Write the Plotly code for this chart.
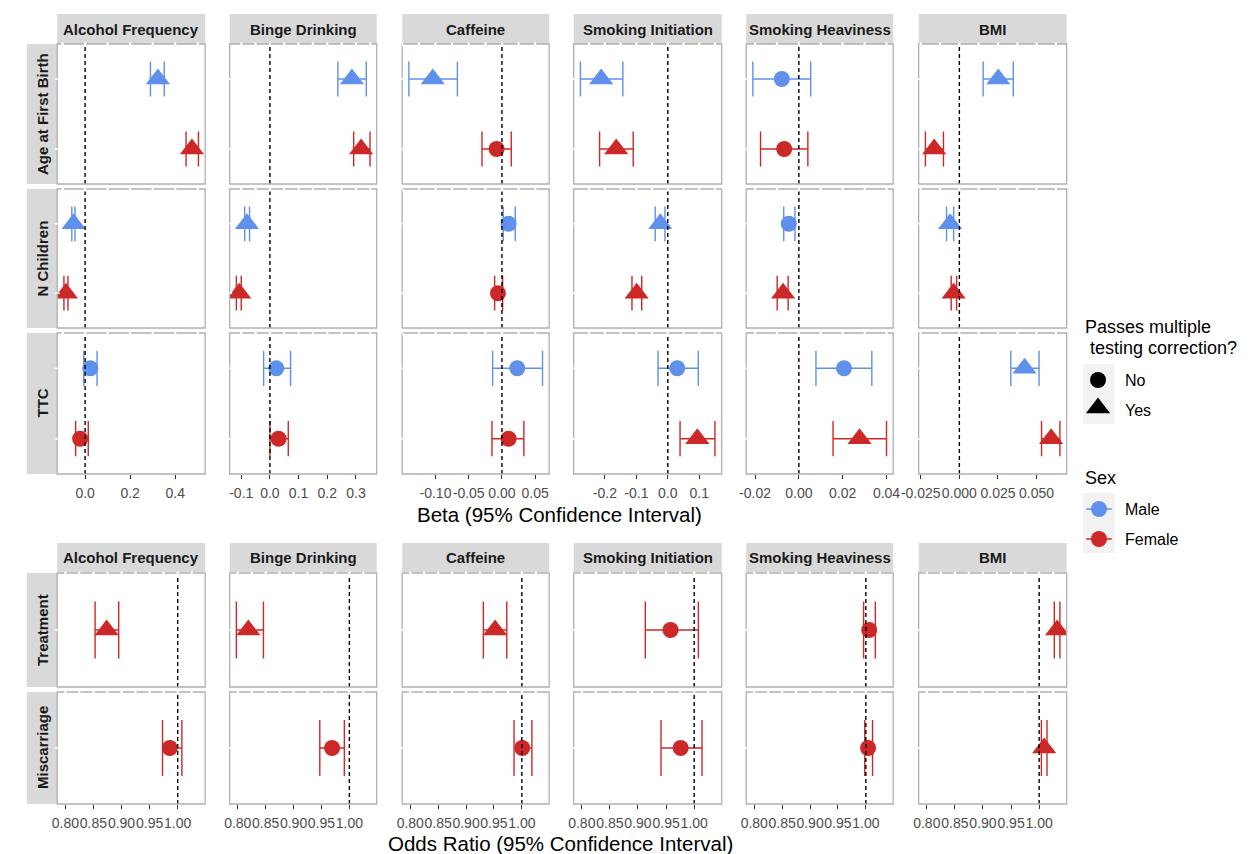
import math
import plotly.graph_objects as go

# ---------------------------------------------------------------- data
EXPOSURES = ["Alcohol Frequency", "Binge Drinking", "Caffeine",
             "Smoking Initiation", "Smoking Heaviness", "BMI"]
BETA_OUTCOMES = ["Age at First Birth", "N Children", "TTC"]
OR_OUTCOMES = ["Treatment", "Miscarriage"]

# Beta estimates, rows = outcomes (AFB, N Children, TTC), cols = exposures
MALE_EST = [[0.323, 0.286, -0.104, -0.212, -0.0078, 0.0252],
            [-0.051, -0.080, 0.010, -0.024, -0.0046, -0.0060],
            [0.023, 0.022, 0.023, 0.030, 0.0206, 0.0422]]
MALE_LO = [[0.290, 0.237, -0.140, -0.278, -0.0210, 0.0154],
           [-0.059, -0.088, 0.002, -0.040, -0.0069, -0.0083],
           [-0.006, -0.022, -0.014, -0.031, 0.0078, 0.0333]]
MALE_HI = [[0.351, 0.336, -0.067, -0.143, 0.0054, 0.0349],
           [-0.045, -0.071, 0.020, -0.009, -0.0018, -0.0037],
           [0.053, 0.072, 0.061, 0.097, 0.0333, 0.0516]]
MALE_PASS = [[1, 1, 1, 1, 0, 1],
             [1, 1, 0, 1, 0, 1],
             [0, 0, 0, 0, 0, 1]]

FEMALE_EST = [[0.474, 0.318, -0.008, -0.164, -0.0067, -0.0163],
              [-0.085, -0.107, -0.006, -0.099, -0.0072, -0.0037],
              [-0.022, 0.030, 0.010, 0.094, 0.0277, 0.0594]]
FEMALE_LO = [[0.448, 0.292, -0.030, -0.217, -0.0175, -0.0220],
             [-0.094, -0.117, -0.011, -0.114, -0.0099, -0.0053],
             [-0.042, 0.000, -0.015, 0.039, 0.0156, 0.0532]]
FEMALE_HI = [[0.503, 0.349, 0.014, -0.110, 0.0041, -0.0103],
             [-0.076, -0.100, 0.001, -0.083, -0.0049, -0.0018],
             [0.014, 0.064, 0.033, 0.150, 0.0400, 0.0651]]
FEMALE_PASS = [[1, 1, 0, 1, 0, 1],
               [1, 1, 0, 1, 1, 1],
               [0, 0, 0, 1, 1, 1]]

# Odds ratios (female only), rows = Treatment, Miscarriage
OR_EST = [[0.8735, 0.819, 0.952, 0.958, 1.006, 1.032],
          [0.986, 0.969, 1.0006, 0.976, 1.004, 1.009]]
OR_LO = [[0.853, 0.7975, 0.931, 0.913, 0.996, 1.027],
         [0.973, 0.947, 0.986, 0.941, 0.998, 1.004]]
OR_HI = [[0.895, 0.846, 0.973, 1.0075, 1.017, 1.037],
         [1.0075, 0.991, 1.018, 1.014, 1.012, 1.014]]
OR_PASS = [[1, 1, 1, 0, 0, 1],
           [0, 0, 0, 0, 0, 1]]

BETA_TICKS = [[0.0, 0.2, 0.4],
              [-0.1, 0.0, 0.1, 0.2, 0.3],
              [-0.10, -0.05, 0.00, 0.05],
              [-0.2, -0.1, 0.0, 0.1],
              [-0.02, 0.00, 0.02, 0.04],
              [-0.025, 0.000, 0.025, 0.050]]
BETA_TICK_TEXT = [["0.0", "0.2", "0.4"],
                  ["-0.1", "0.0", "0.1", "0.2", "0.3"],
                  ["-0.10", "-0.05", "0.00", "0.05"],
                  ["-0.2", "-0.1", "0.0", "0.1"],
                  ["-0.02", "0.00", "0.02", "0.04"],
                  ["-0.025", "0.000", "0.025", "0.050"]]
OR_TICKS = [0.80, 0.85, 0.90, 0.95, 1.00]
OR_TICK_TEXT = ["0.80", "0.85", "0.90", "0.95", "1.00"]

# ---------------------------------------------------------------- style
W, H = 1253, 854
MALE_COL = "#5E90EC"
FEMALE_COL = "#CD2828"
FONT = "Liberation Sans, Arial, sans-serif"
STRIP_FILL = "#D9D9D9"
BORDER = "#B0B0B0"
CIRCLE_SIZE = 16
TRI_SIZE = 21
CAP = 0.25

COL_PX = [(40, 191), (216, 366), (392, 542), (567, 718), (743, 893), (919, 1070)]
TOP_ROWS_PX = [(44, 184), (189, 328), (333, 474)]
BOT_ROWS_PX = [(573, 687), (692, 804)]
TOP_STRIP_PX = (14, 44)
BOT_STRIP_PX = (543, 572)
ROW_STRIP_X = (9, 40)


def fx(px):
    return px / W


def fy(py):
    return 1 - py / H


def expand(lo, hi, mult=0.05):
    span = hi - lo
    return [lo - mult * span, hi + mult * span]


def grid_positions(ticks, rng):
    """Major and minor break positions (half-step grid) inside the range."""
    half = (ticks[1] - ticks[0]) / 2
    k0 = math.ceil((rng[0] - ticks[0]) / half - 1e-9)
    k1 = math.floor((rng[1] - ticks[0]) / half + 1e-9)
    return [ticks[0] + k * half for k in range(k0, k1 + 1)]


fig = go.Figure()
layout = dict(width=W, height=H, margin=dict(l=0, r=0, t=0, b=0),
              paper_bgcolor="white", plot_bgcolor="white", showlegend=False,
              font=dict(family=FONT))
shapes, annotations = [], []


def axis_names(n):
    return ("xaxis" if n == 1 else f"xaxis{n}", "yaxis" if n == 1 else f"yaxis{n}",
            "x" if n == 1 else f"x{n}", "y" if n == 1 else f"y{n}")


def add_points(xr, yr, ypos, est, lo, hi, passes, color):
    # error bars: horizontal span plus end caps
    xs, ys = [], []
    for yv, l, h in zip(ypos, lo, hi):
        xs += [l, h, None, l, l, None, h, h, None]
        ys += [yv, yv, None, yv - CAP, yv + CAP, None, yv - CAP, yv + CAP, None]
    fig.add_trace(go.Scatter(x=xs, y=ys, mode="lines", xaxis=xr, yaxis=yr,
                             line=dict(color=color, width=1.4), hoverinfo="skip"))
    fig.add_trace(go.Scatter(
        x=est, y=ypos, mode="markers", xaxis=xr, yaxis=yr, opacity=1,
        marker=dict(color=color, opacity=1,
                    symbol=["triangle-up" if p else "circle" for p in passes],
                    size=[TRI_SIZE if p else CIRCLE_SIZE for p in passes],
                    line=dict(width=0)),
        hoverinfo="skip"))


def panel(n, xpx, ypx, xrange, yrange, cats, show_ticks, tickvals, ticktext, ref):
    xa, ya, xr, yr = axis_names(n)
    layout[xa] = dict(domain=[fx(xpx[0]), fx(xpx[1])], range=xrange, anchor=yr,
                      showgrid=False, zeroline=False, showline=False,
                      showticklabels=show_ticks, ticks="outside" if show_ticks else "",
                      ticklen=4, tickwidth=1.1, tickcolor="#333333", ticklabelstandoff=2,
                      tickvals=tickvals, ticktext=ticktext, tickangle=0,
                      tickfont=dict(size=14, color="#4D4D4D", family=FONT))
    layout[ya] = dict(domain=[fy(ypx[1]), fy(ypx[0])], range=yrange, anchor=xr,
                      showgrid=False, zeroline=False, showline=False,
                      showticklabels=False, ticks="")
    # reference line
    shapes.append(dict(type="line", xref=xr, yref=f"{yr} domain", x0=ref, x1=ref,
                       y0=0, y1=1, line=dict(color="black", width=1.4, dash="4px,3px")))
    # panel border
    shapes.append(dict(type="rect", xref="paper", yref="paper",
                       x0=fx(xpx[0]), x1=fx(xpx[1]), y0=fy(ypx[1]), y1=fy(ypx[0]),
                       line=dict(color=BORDER, width=1.3), layer="above"))
    # white grid ends crossing the top and left borders
    hpx, wpx = ypx[1] - ypx[0], xpx[1] - xpx[0]
    for gx in grid_positions(tickvals, xrange):
        shapes.append(dict(type="line", xref=xr, yref=f"{yr} domain", x0=gx, x1=gx,
                           y0=1 - 2.5 / hpx, y1=1 + 1.5 / hpx,
                           line=dict(color="white", width=2.2), layer="above"))
    for cy in cats:
        shapes.append(dict(type="line", xref=f"{xr} domain", yref=yr, x0=-2.5 / wpx,
                           x1=2.5 / wpx, y0=cy, y1=cy,
                           line=dict(color="white", width=1.6), layer="above"))
    return xr, yr


def strip_h(xpx, ypx, text):
    shapes.append(dict(type="rect", xref="paper", yref="paper", x0=fx(xpx[0]), x1=fx(xpx[1]),
                       y0=fy(ypx[1]), y1=fy(ypx[0]), fillcolor=STRIP_FILL, line=dict(width=0),
                       layer="below"))
    annotations.append(dict(xref="paper", yref="paper", x=fx((xpx[0] + xpx[1]) / 2),
                            y=fy((ypx[0] + ypx[1]) / 2), text=f"<b>{text}</b>", showarrow=False,
                            font=dict(size=15, color="#1A1A1A", family=FONT),
                            xanchor="center", yanchor="middle"))


def strip_v(ypx, text):
    shapes.append(dict(type="rect", xref="paper", yref="paper", x0=fx(ROW_STRIP_X[0]),
                       x1=fx(ROW_STRIP_X[1]), y0=fy(ypx[1]), y1=fy(ypx[0]),
                       fillcolor=STRIP_FILL, line=dict(width=0), layer="below"))
    annotations.append(dict(xref="paper", yref="paper", x=fx((ROW_STRIP_X[0] + ROW_STRIP_X[1]) / 2),
                            y=fy((ypx[0] + ypx[1]) / 2), text=f"<b>{text}</b>", showarrow=False,
                            textangle=-90, font=dict(size=15, color="#1A1A1A", family=FONT),
                            xanchor="center", yanchor="middle"))


# ---------------------------------------------------------------- beta block
beta_ranges = []
for c in range(len(EXPOSURES)):
    los = [MALE_LO[r][c] for r in range(3)] + [FEMALE_LO[r][c] for r in range(3)]
    his = [MALE_HI[r][c] for r in range(3)] + [FEMALE_HI[r][c] for r in range(3)]
    beta_ranges.append(expand(min(los), max(his)))

for r, outcome in enumerate(BETA_OUTCOMES):
    for c, expo in enumerate(EXPOSURES):
        n = r * 6 + c + 1
        last = r == len(BETA_OUTCOMES) - 1
        xr, yr = panel(n, COL_PX[c], TOP_ROWS_PX[r], beta_ranges[c], [0.5, 2.5], [1, 2], last,
                       BETA_TICKS[c], BETA_TICK_TEXT[c], 0)
        add_points(xr, yr, [2], [MALE_EST[r][c]], [MALE_LO[r][c]], [MALE_HI[r][c]],
                   [MALE_PASS[r][c]], MALE_COL)
        add_points(xr, yr, [1], [FEMALE_EST[r][c]], [FEMALE_LO[r][c]], [FEMALE_HI[r][c]],
                   [FEMALE_PASS[r][c]], FEMALE_COL)
    strip_v(TOP_ROWS_PX[r], outcome)
for c, expo in enumerate(EXPOSURES):
    strip_h(COL_PX[c], TOP_STRIP_PX, expo)

# ---------------------------------------------------------------- odds ratio block
or_lo_all = [v for row in OR_LO for v in row]
or_hi_all = [v for row in OR_HI for v in row]
or_range = expand(min(or_lo_all), max(or_hi_all))
for r, outcome in enumerate(OR_OUTCOMES):
    for c, expo in enumerate(EXPOSURES):
        n = 18 + r * 6 + c + 1
        last = r == len(OR_OUTCOMES) - 1
        xr, yr = panel(n, COL_PX[c], BOT_ROWS_PX[r], or_range, [0.5, 1.5], [1], last,
                       OR_TICKS, OR_TICK_TEXT, 1)
        add_points(xr, yr, [1], [OR_EST[r][c]], [OR_LO[r][c]], [OR_HI[r][c]],
                   [OR_PASS[r][c]], FEMALE_COL)
    strip_v(BOT_ROWS_PX[r], outcome)
for c, expo in enumerate(EXPOSURES):
    strip_h(COL_PX[c], BOT_STRIP_PX, expo)

# axis titles
annotations.append(dict(xref="paper", yref="paper", x=fx(553), y=fy(514),
                        text="Beta (95% Confidence Interval)", showarrow=False,
                        xanchor="center", yanchor="middle",
                        font=dict(size=20.5, color="black", family=FONT)))
annotations.append(dict(xref="paper", yref="paper", x=fx(554), y=fy(843),
                        text="Odds Ratio (95% Confidence Interval)", showarrow=False,
                        xanchor="center", yanchor="middle",
                        font=dict(size=20.5, color="black", family=FONT)))

# ---------------------------------------------------------------- legend
LEG_X, LEG_Y = (1080, 1253), (300, 570)
layout["xaxis31"] = dict(domain=[fx(LEG_X[0]), fx(LEG_X[1])], range=list(LEG_X), visible=False,
                         anchor="y31")
layout["yaxis31"] = dict(domain=[fy(LEG_Y[1]), fy(LEG_Y[0])], range=[LEG_Y[1], LEG_Y[0]],
                         visible=False, anchor="x31")
for y0, y1 in [(364, 424), (493, 553)]:
    shapes.append(dict(type="rect", xref="x31", yref="y31", x0=1087, x1=1119, y0=y0, y1=y1,
                       fillcolor="#F2F2F2", line=dict(width=0), layer="below"))
fig.add_trace(go.Scatter(x=[1102, 1102], y=[380, 408], mode="markers", xaxis="x31", yaxis="y31",
                         opacity=1,
                         marker=dict(color="black", symbol=["circle", "triangle-up"], opacity=1,
                                     size=[CIRCLE_SIZE, TRI_SIZE], line=dict(width=0)),
                         hoverinfo="skip"))
for yv, col in [(509, MALE_COL), (539, FEMALE_COL)]:
    fig.add_trace(go.Scatter(x=[1090, 1116], y=[yv, yv], mode="lines", xaxis="x31", yaxis="y31",
                             line=dict(color=col, width=1.4), hoverinfo="skip"))
    fig.add_trace(go.Scatter(x=[1103], y=[yv], mode="markers", xaxis="x31", yaxis="y31",
                             marker=dict(color=col, size=CIRCLE_SIZE, opacity=1, line=dict(width=0)),
                             hoverinfo="skip"))
leg_font = dict(size=16, color="black", family=FONT)
title_font = dict(size=18, color="black", family=FONT)
annotations += [
    dict(xref="paper", yref="paper", x=fx(1087), y=fy(327), text="Passes multiple",
         showarrow=False, xanchor="left", yanchor="middle", font=title_font),
    dict(xref="paper", yref="paper", x=fx(1087), y=fy(348), text=" testing correction?",
         showarrow=False, xanchor="left", yanchor="middle", font=title_font),
    dict(xref="paper", yref="paper", x=fx(1127), y=fy(380), text="No", showarrow=False,
         xanchor="left", yanchor="middle", font=leg_font),
    dict(xref="paper", yref="paper", x=fx(1127), y=fy(410), text="Yes", showarrow=False,
         xanchor="left", yanchor="middle", font=leg_font),
    dict(xref="paper", yref="paper", x=fx(1087), y=fy(478), text="Sex", showarrow=False,
         xanchor="left", yanchor="middle", font=title_font),
    dict(xref="paper", yref="paper", x=fx(1127), y=fy(509), text="Male", showarrow=False,
         xanchor="left", yanchor="middle", font=leg_font),
    dict(xref="paper", yref="paper", x=fx(1127), y=fy(539), text="Female", showarrow=False,
         xanchor="left", yanchor="middle", font=leg_font),
]

layout["shapes"] = shapes
layout["annotations"] = annotations
fig.update_layout(**layout)
fig.write_html("out.html")
